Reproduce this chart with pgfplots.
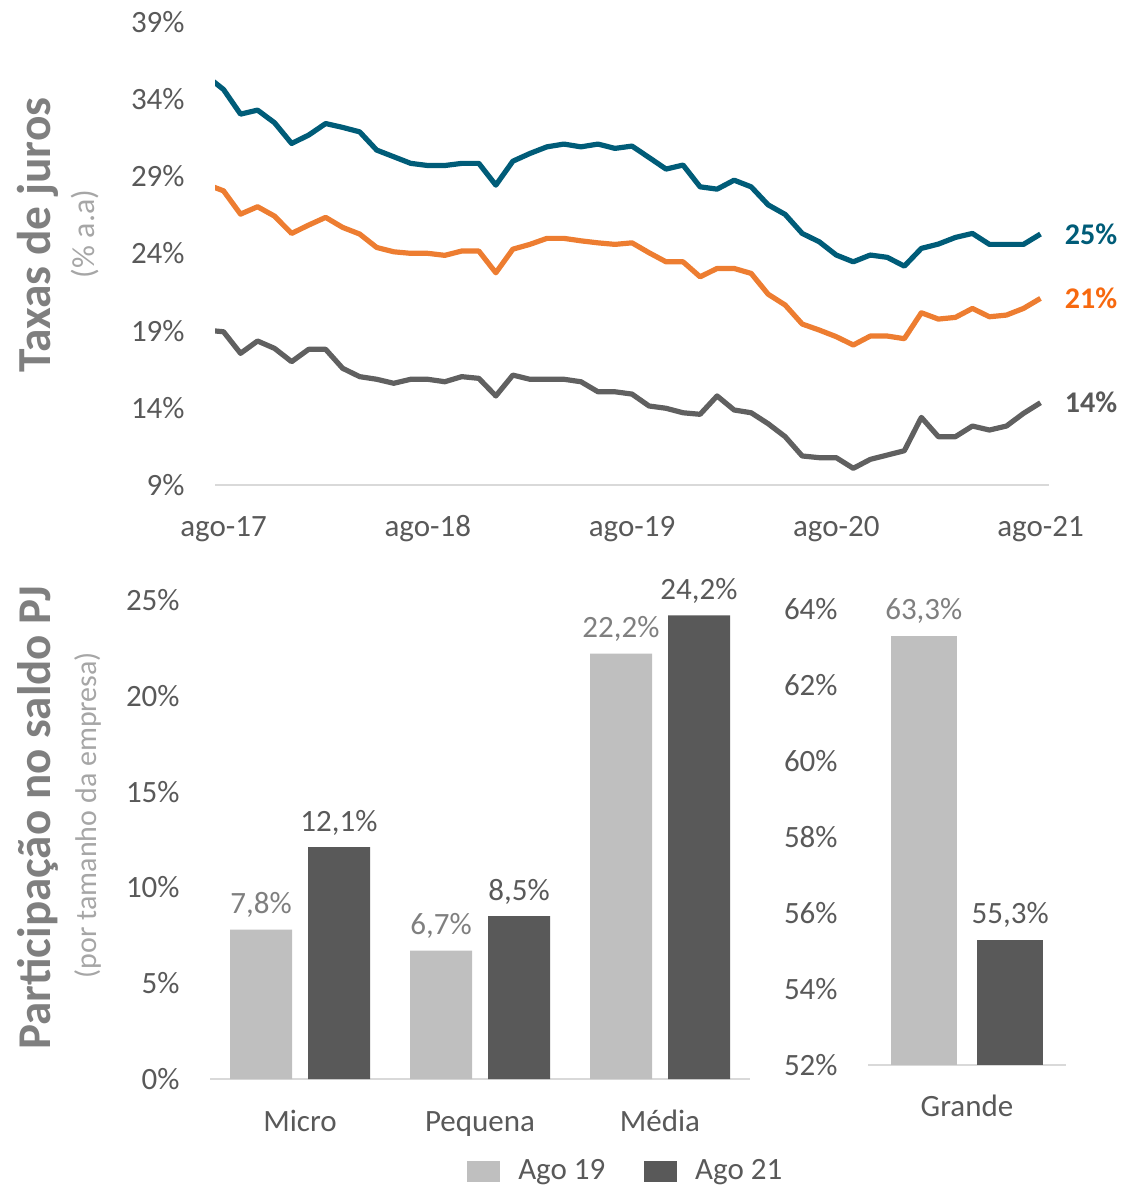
\documentclass[border=0pt]{standalone}
\usepackage{pgfplots}
\usepackage{pgfplotstable}
\pgfplotsset{compat=1.18}
\usepackage{fontspec}
\setmainfont{Carlito}
\definecolor{txt}{HTML}{595959}
\definecolor{ttl}{HTML}{7F7F7F}
\definecolor{sub}{HTML}{A6A6A6}
\definecolor{cblue}{HTML}{005C78}
\definecolor{corange}{HTML}{ED7D31}
\definecolor{corlab}{HTML}{F7690F}
\definecolor{cgray}{HTML}{606060}
\definecolor{lgray}{HTML}{BFBFBF}
\definecolor{dgray}{HTML}{595959}
\definecolor{axgray}{HTML}{D9D9D9}
\definecolor{labl}{HTML}{7F7F7F}

\pgfplotstableread{
x blue orange gray
-1 35.50 28.48 19.03
0 34.63 28.06 18.93
1 33.03 26.55 17.53
2 33.29 27.03 18.33
3 32.47 26.42 17.85
4 31.13 25.30 16.99
5 31.67 25.84 17.79
6 32.42 26.34 17.79
7 32.17 25.69 16.56
8 31.88 25.26 16.02
9 30.70 24.39 15.85
10 30.27 24.11 15.59
11 29.84 24.01 15.85
12 29.70 24.01 15.85
13 29.70 23.88 15.69
14 29.84 24.16 16.02
15 29.84 24.16 15.91
16 28.43 22.75 14.77
17 29.98 24.28 16.12
18 30.48 24.59 15.85
19 30.91 24.98 15.85
20 31.09 24.98 15.85
21 30.91 24.82 15.69
22 31.09 24.69 15.04
23 30.81 24.59 15.04
24 30.96 24.69 14.89
25 30.22 24.05 14.12
26 29.47 23.46 13.97
27 29.73 23.46 13.68
28 28.32 22.49 13.58
29 28.17 23.03 14.77
30 28.75 23.03 13.86
31 28.32 22.71 13.68
32 27.15 21.36 12.97
33 26.53 20.66 12.13
34 25.30 19.43 10.88
35 24.76 19.04 10.77
36 23.90 18.61 10.77
37 23.46 18.07 10.08
38 23.90 18.65 10.66
39 23.75 18.65 10.94
40 23.18 18.48 11.22
41 24.33 20.16 13.38
42 24.61 19.75 12.13
43 25.04 19.86 12.13
44 25.30 20.44 12.82
45 24.59 19.90 12.56
46 24.59 20.01 12.82
47 24.59 20.44 13.64
48 25.26 21.09 14.33
}\rates

\tikzset{lbl/.style={font=\fontsize{15.5}{18}\selectfont, inner sep=0pt, anchor=base, yshift=8pt}}

\pgfplotsset{
  base/.style={
    scale only axis, anchor=south west,
    axis x line*=bottom, axis y line*=left,
    y axis line style={draw=none},
    x axis line style={draw=axgray, line width=0.75pt},
    major tick length=0pt,
    tick label style={font=\fontsize{15.5}{18}\selectfont, color=txt, inner sep=0pt},
    yticklabel style={anchor=east, xshift=-15pt},
    xticklabel style={anchor=base, yshift=-25.75pt},
    clip mode=individual,
  },
}

\begin{document}
\begin{tikzpicture}
\useasboundingbox (0,0) rectangle (561pt,594pt);

% ---------- top line chart ----------
\begin{axis}[base,
  at={(107.5pt,351.5pt)}, width=417pt, height=231.5pt,
  xmin=-0.5, xmax=48.5, ymin=9, ymax=39,
  xtick={0,12,24,36,48}, xticklabels={ago-17,ago-18,ago-19,ago-20,ago-21},
  ytick={9,14,19,24,29,34,39},
  yticklabels={9\%,14\%,19\%,24\%,29\%,34\%,39\%},
]
\addplot[cblue, line width=2.6pt, line join=round] table[x=x,y=blue]{\rates};
\addplot[corange, line width=2.6pt, line join=round] table[x=x,y=orange]{\rates};
\addplot[cgray, line width=2.6pt, line join=round] table[x=x,y=gray]{\rates};
\node[anchor=west, xshift=12pt, inner sep=0pt, font=\fontsize{15}{18}\selectfont\bfseries, text=cblue] at (axis cs:48,25.26) {25\%};
\node[anchor=west, xshift=12pt, inner sep=0pt, font=\fontsize{15}{18}\selectfont\bfseries, text=corlab] at (axis cs:48,21.09) {21\%};
\node[anchor=west, xshift=12pt, inner sep=0pt, font=\fontsize{15}{18}\selectfont\bfseries, text=txt] at (axis cs:48,14.33) {14\%};
\end{axis}

% ---------- bottom left bar chart ----------
\begin{axis}[base,
  at={(105pt,54.5pt)}, width=270pt, height=239.5pt,
  xmin=-0.5, xmax=2.5, ymin=0, ymax=25,
  xtick={0,1,2}, xticklabels={Micro,Pequena,Média},
  xticklabel style={yshift=-0.25pt},
  ytick={0,5,10,15,20,25},
  yticklabels={0\%,5\%,10\%,15\%,20\%,25\%},
  legend style={at={(0.772,-0.192)}, anchor=center, draw=none, fill=none,
    font=\fontsize{15.5}{18}\selectfont, text=txt, inner sep=0pt,
    /tikz/every odd column/.append style={column sep=7pt},
    /tikz/every even column/.append style={column sep=17.5pt}},
  legend columns=2,
]
\addplot[ybar, bar width=31pt, bar shift=-19.5pt, fill=lgray, draw=none, forget plot,
  nodes near coords, point meta=explicit symbolic,
  every node near coord/.append style={lbl, xshift=-19.5pt, text=labl}]
  coordinates {(0,7.8)[7,8\%] (1,6.7)[6,7\%] (2,22.2)[22,2\%]};
\addplot[ybar, bar width=31pt, bar shift=19.5pt, fill=dgray, draw=none, forget plot,
  nodes near coords, point meta=explicit symbolic,
  every node near coord/.append style={lbl, xshift=19.5pt, text=txt}]
  coordinates {(0,12.1)[12,1\%] (1,8.5)[8,5\%] (2,24.2)[24,2\%]};
\addlegendimage{legend image code/.code={\fill[lgray] (0pt,-5pt) rectangle (16pt,5pt);}}
\addlegendentry{Ago 19}
\addlegendimage{legend image code/.code={\fill[dgray] (0pt,-5pt) rectangle (16pt,5pt);}}
\addlegendentry{Ago 21}
\end{axis}

% ---------- bottom right bar chart ----------
\begin{axis}[base,
  at={(434pt,61.5pt)}, width=99pt, height=228pt,
  xmin=-0.5, xmax=0.5, ymin=52, ymax=64,
  xtick={0}, xticklabels={Grande},
  ytick={52,54,56,58,60,62,64},
  yticklabels={52\%,54\%,56\%,58\%,60\%,62\%,64\%},
]
\addplot[ybar, bar width=33.25pt, bar shift=-21.6pt, fill=lgray, draw=none,
  nodes near coords, point meta=explicit symbolic,
  every node near coord/.append style={lbl, xshift=-21.6pt, text=labl}]
  coordinates {(0,63.3)[63,3\%]};
\addplot[ybar, bar width=33.25pt, bar shift=21.6pt, fill=dgray, draw=none,
  nodes near coords, point meta=explicit symbolic,
  every node near coord/.append style={lbl, xshift=21.6pt, text=txt}]
  coordinates {(0,55.3)[55,3\%]};
\end{axis}

% ---------- axis titles ----------
\node[rotate=90, inner sep=0pt, text=ttl, font=\fontsize{23.7}{28}\selectfont\bfseries] at (19pt,476.5pt) {Taxas de juros};
\node[rotate=90, inner sep=0pt, text=sub, font=\fontsize{16}{19}\selectfont] at (42.5pt,477pt) {(\% a.a)};
\node[rotate=90, inner sep=0pt, text=ttl, font=\fontsize{23.5}{28}\selectfont\bfseries] at (19pt,185pt) {Participação no saldo PJ};
\node[rotate=90, inner sep=0pt, text=sub, font=\fontsize{15}{18}\selectfont] at (44pt,186.5pt) {(por tamanho da empresa)};
\end{tikzpicture}
\end{document}
